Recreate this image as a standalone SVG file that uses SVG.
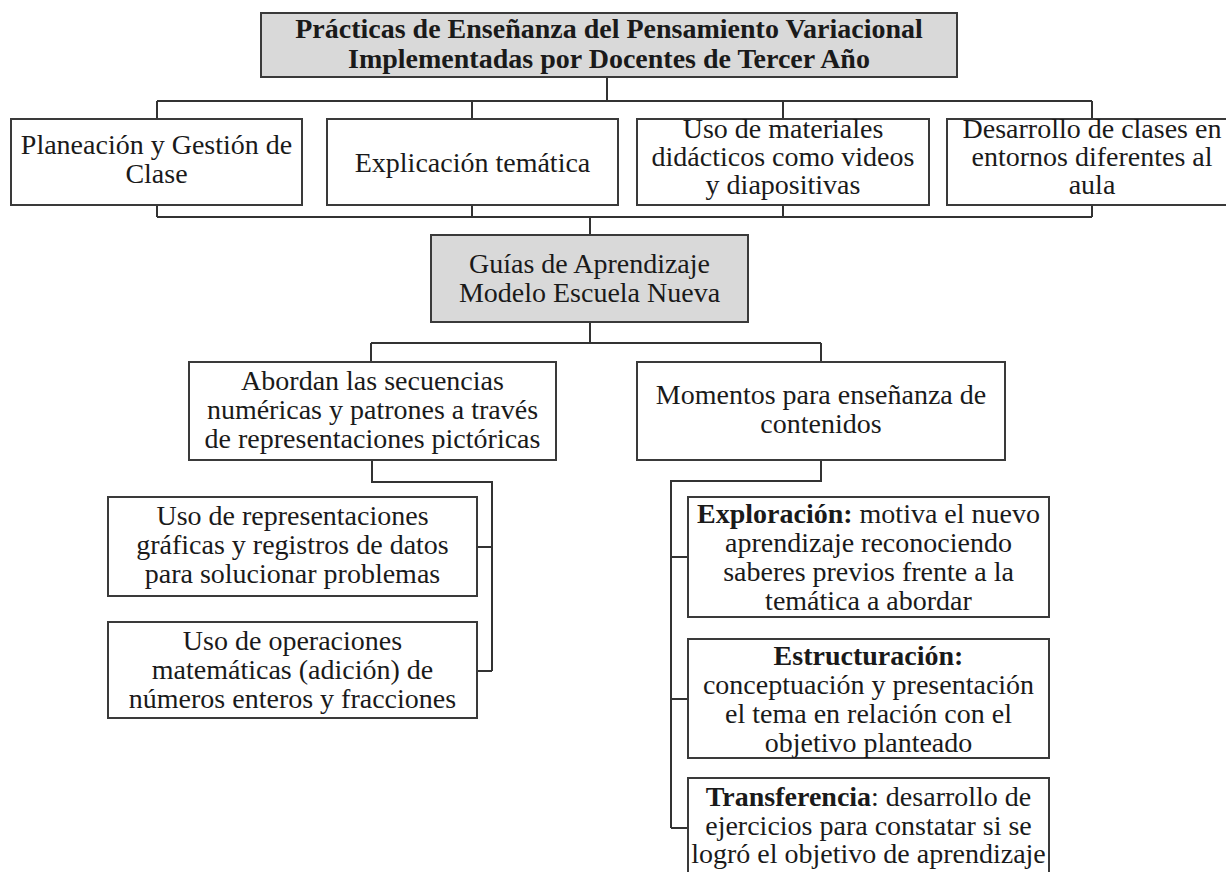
<svg xmlns="http://www.w3.org/2000/svg" width="1226" height="872" viewBox="0 0 1226 872">
<style>
  .box { fill: #ffffff; stroke: #3a3a3a; stroke-width: 2; }
  .gray { fill: #d9d9d9; stroke: #3a3a3a; stroke-width: 2; }
  text { font-family: 'Liberation Serif', 'Times New Roman', Times, 'DejaVu Serif', serif; font-size: 28px; fill: #1a1a1a; text-anchor: middle; }
  .b { font-weight: bold; }
  .conn { fill: none; stroke: #333333; stroke-width: 2; }
</style>
<rect width="1226" height="872" fill="#ffffff"/>
<g id="connectors">
  <path class="conn" d="M607,77 V101 M157,101 H1092 M157,101 V119 M472,101 V119 M783,101 V119 M1092,101 V119"/>
  <path class="conn" d="M157,205 V217 M472,205 V217 M783,205 V217 M1092,205 V217 M157,217 H1092 M590,217 V235"/>
  <path class="conn" d="M590,322 V343 M371,343 H821 M371,343 V362 M821,343 V362"/>
  <path class="conn" d="M372,460 V482 H492 V671 M477,547 H492 M477,671 H492"/>
  <path class="conn" d="M821,460 V481 H671 V828 M671,557 H688 M671,699 H688 M671,828 H688"/>
</g>
<g id="root">
  <rect class="gray" x="261" y="13" width="696" height="64"/>
  <text class="b" x="609" y="38">Prácticas de Enseñanza del Pensamiento Variacional</text>
  <text class="b" x="609" y="68">Implementadas por Docentes de Tercer Año</text>
</g>
<g id="planeacion">
  <rect class="box" x="11" y="119" width="291" height="86"/>
  <text x="156.5" y="154">Planeación y Gestión de</text>
  <text x="156.5" y="183">Clase</text>
</g>
<g id="explicacion">
  <rect class="box" x="327" y="119" width="291" height="86"/>
  <text x="472.5" y="172">Explicación temática</text>
</g>
<g id="materiales">
  <rect class="box" x="637" y="119" width="292" height="86"/>
  <text x="783" y="138">Uso de materiales</text>
  <text x="783" y="166">didácticos como videos</text>
  <text x="783" y="194">y diapositivas</text>
</g>
<g id="desarrollo">
  <rect class="box" x="947" y="119" width="292" height="86"/>
  <text x="1092" y="138">Desarrollo de clases en</text>
  <text x="1092" y="166">entornos diferentes al</text>
  <text x="1092" y="194">aula</text>
</g>
<g id="guias">
  <rect class="gray" x="431" y="235" width="317" height="87"/>
  <text x="589.5" y="273">Guías de Aprendizaje</text>
  <text x="589.5" y="302">Modelo Escuela Nueva</text>
</g>
<g id="abordan">
  <rect class="box" x="189" y="362" width="367" height="98"/>
  <text x="372.5" y="390">Abordan las secuencias</text>
  <text x="372.5" y="419">numéricas y patrones a través</text>
  <text x="372.5" y="448">de representaciones pictóricas</text>
</g>
<g id="momentos">
  <rect class="box" x="637" y="362" width="368" height="98"/>
  <text x="821" y="404">Momentos para enseñanza de</text>
  <text x="821" y="433">contenidos</text>
</g>
<g id="graficas">
  <rect class="box" x="108" y="497" width="369" height="99"/>
  <text x="292.5" y="525">Uso de representaciones</text>
  <text x="292.5" y="554">gráficas y registros de datos</text>
  <text x="292.5" y="583">para solucionar problemas</text>
</g>
<g id="operaciones">
  <rect class="box" x="108" y="622" width="369" height="96"/>
  <text x="292.5" y="650">Uso de operaciones</text>
  <text x="292.5" y="679">matemáticas (adición) de</text>
  <text x="292.5" y="708">números enteros y fracciones</text>
</g>
<g id="exploracion">
  <rect class="box" x="688" y="497" width="361" height="120"/>
  <text x="868.5" y="523"><tspan class="b">Exploración:</tspan> motiva el nuevo</text>
  <text x="868.5" y="552">aprendizaje reconociendo</text>
  <text x="868.5" y="581">saberes previos frente a la</text>
  <text x="868.5" y="610">temática a abordar</text>
</g>
<g id="estructuracion">
  <rect class="box" x="688" y="639" width="361" height="119"/>
  <text class="b" x="868.5" y="665">Estructuración:</text>
  <text x="868.5" y="694">conceptuación y presentación</text>
  <text x="868.5" y="723">el tema en relación con el</text>
  <text x="868.5" y="752">objetivo planteado</text>
</g>
<g id="transferencia">
  <rect class="box" x="688" y="778" width="361" height="110"/>
  <text x="868.5" y="806"><tspan class="b">Transferencia</tspan>: desarrollo de</text>
  <text x="868.5" y="835">ejercicios para constatar si se</text>
  <text x="868.5" y="863">logró el objetivo de aprendizaje</text>
</g>
</svg>
